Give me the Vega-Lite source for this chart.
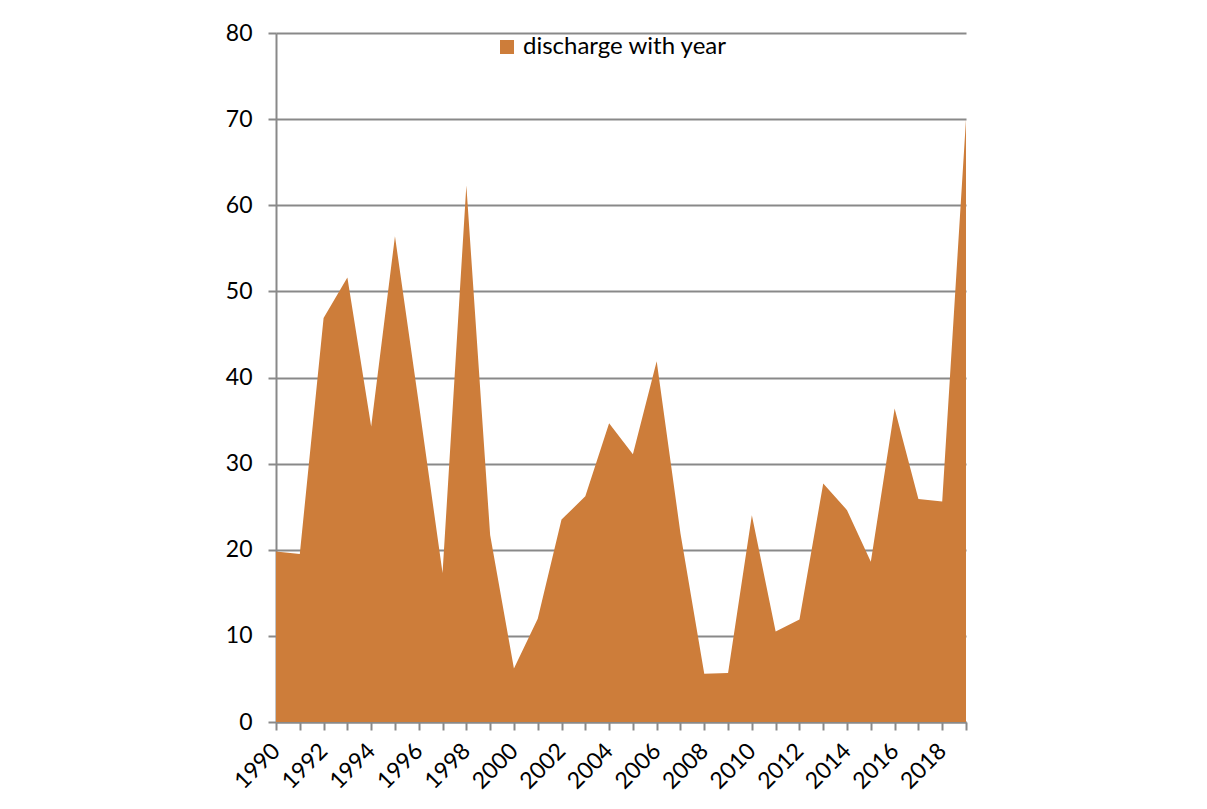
{
  "$schema": "https://vega.github.io/schema/vega-lite/v6.json",
  "width": 690,
  "height": 689,
  "autosize": {"type": "none"},
  "padding": {"left": 276, "top": 33, "right": 241, "bottom": 87},
  "background": "white",
  "config": {
    "view": {"stroke": null},
    "font": "Lato",
    "axis": {
      "labelFont": "Lato",
      "labelFontSize": 23,
      "labelColor": "#000000",
      "domainColor": "#898989",
      "domainWidth": 2,
      "tickColor": "#898989",
      "tickWidth": 2,
      "gridColor": "#898989",
      "gridWidth": 2
    }
  },
  "data": {
    "values": [
      {"year": 1990, "discharge": 19.8, "series": "discharge with year"},
      {"year": 1991, "discharge": 19.5, "series": "discharge with year"},
      {"year": 1992, "discharge": 46.9, "series": "discharge with year"},
      {"year": 1993, "discharge": 51.6, "series": "discharge with year"},
      {"year": 1994, "discharge": 34.3, "series": "discharge with year"},
      {"year": 1995, "discharge": 56.4, "series": "discharge with year"},
      {"year": 1996, "discharge": 37.0, "series": "discharge with year"},
      {"year": 1997, "discharge": 17.3, "series": "discharge with year"},
      {"year": 1998, "discharge": 62.3, "series": "discharge with year"},
      {"year": 1999, "discharge": 21.7, "series": "discharge with year"},
      {"year": 2000, "discharge": 6.2, "series": "discharge with year"},
      {"year": 2001, "discharge": 12.0, "series": "discharge with year"},
      {"year": 2002, "discharge": 23.5, "series": "discharge with year"},
      {"year": 2003, "discharge": 26.2, "series": "discharge with year"},
      {"year": 2004, "discharge": 34.7, "series": "discharge with year"},
      {"year": 2005, "discharge": 31.1, "series": "discharge with year"},
      {"year": 2006, "discharge": 41.9, "series": "discharge with year"},
      {"year": 2007, "discharge": 21.9, "series": "discharge with year"},
      {"year": 2008, "discharge": 5.6, "series": "discharge with year"},
      {"year": 2009, "discharge": 5.7, "series": "discharge with year"},
      {"year": 2010, "discharge": 24.0, "series": "discharge with year"},
      {"year": 2011, "discharge": 10.5, "series": "discharge with year"},
      {"year": 2012, "discharge": 11.9, "series": "discharge with year"},
      {"year": 2013, "discharge": 27.7, "series": "discharge with year"},
      {"year": 2014, "discharge": 24.6, "series": "discharge with year"},
      {"year": 2015, "discharge": 18.6, "series": "discharge with year"},
      {"year": 2016, "discharge": 36.4, "series": "discharge with year"},
      {"year": 2017, "discharge": 25.9, "series": "discharge with year"},
      {"year": 2018, "discharge": 25.6, "series": "discharge with year"},
      {"year": 2019, "discharge": 70.0, "series": "discharge with year"}
    ]
  },
  "mark": {"type": "area", "opacity": 1},
  "encoding": {
    "x": {
      "field": "year",
      "type": "quantitative",
      "scale": {"domain": [1990, 2019], "nice": false, "zero": false},
      "axis": {
        "title": null,
        "grid": false,
        "values": [1990,1991,1992,1993,1994,1995,1996,1997,1998,1999,2000,2001,2002,2003,2004,2005,2006,2007,2008,2009,2010,2011,2012,2013,2014,2015,2016,2017,2018,2019],
        "format": "d",
        "labelExpr": "datum.value % 2 == 0 ? datum.label : ''",
        "labelAngle": -45,
        "labelAlign": "right",
        "labelBaseline": "middle",
        "labelPadding": 17,
        "tickSize": 8,
        "labelOverlap": false,
        "labelFlush": false
      }
    },
    "y": {
      "field": "discharge",
      "type": "quantitative",
      "scale": {"domain": [0, 80], "nice": false},
      "axis": {
        "title": null,
        "values": [0, 10, 20, 30, 40, 50, 60, 70, 80],
        "tickSize": 8,
        "labelPadding": 16,
        "grid": true
      }
    },
    "color": {
      "field": "series",
      "type": "nominal",
      "scale": {"range": ["#CD7D3A"]},
      "legend": {
        "title": null,
        "orient": "none",
        "legendX": 219,
        "legendY": 2,
        "symbolType": "square",
        "symbolSize": 196,
        "symbolStrokeWidth": 0,
        "symbolOpacity": 1,
        "labelFont": "Lato",
        "labelFontSize": 24,
        "labelLimit": 400,
        "labelColor": "#000000",
        "labelOffset": 4
      }
    }
  }
}
